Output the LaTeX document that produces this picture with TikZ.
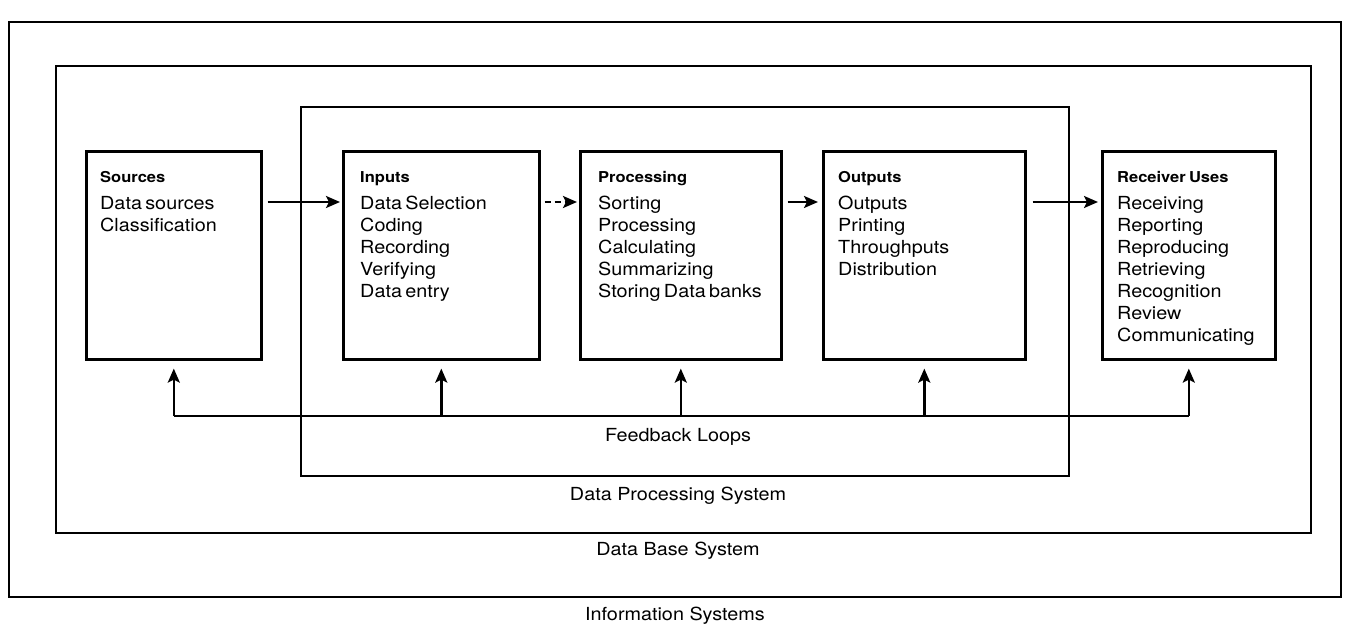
\documentclass[tikz,border=0pt]{standalone}
\usepackage{fontspec}
\setmainfont{TeX Gyre Heros}[FakeStretch=1.1]
\usetikzlibrary{arrows.meta,calc}
\newcommand\blk[2]{{\fontsize{15}{16}\selectfont\bfseries #1\par}\vspace{5pt}{\fontsize{18}{22}\selectfont #2\par}}
\tikzset{
  frame/.style={draw, line width=2.4pt},
  block/.style={draw, line width=2.6pt, minimum height=208pt, anchor=north west, inner sep=0pt},
  blocktxt/.style={anchor=north west, inner sep=0pt, align=left, text width=#1},
  arr/.style={line width=2.4pt, -{Stealth[length=14pt,width=12pt,inset=3pt]}},
  fbline/.style={line width=2.4pt},
  caption/.style={font=\fontsize{18}{20}\selectfont, inner sep=0pt},
}
\begin{document}
\begin{tikzpicture}[x=1pt,y=-1pt]
\useasboundingbox (0,0) rectangle (1352,628);
% nested system frames
\node[frame, anchor=north west, minimum width=1332pt, minimum height=575pt, inner sep=0pt] (is) at (8,21) {};
\node[frame, anchor=north west, minimum width=1255pt, minimum height=467pt, inner sep=0pt] (db) at (55,65) {};
\node[frame, anchor=north west, minimum width=768pt, minimum height=369pt, inner sep=0pt] (dp) at (300,106) {};
% blocks
\node[block, minimum width=175pt] (src) at (85,150) {};
\node[block, minimum width=196pt] (inp) at (342,150) {};
\node[block, minimum width=201pt] (prc) at (579,150) {};
\node[block, minimum width=202pt] (out) at (822,150) {};
\node[block, minimum width=173pt] (rcv) at (1101,150) {};
% block texts
\node[blocktxt=160pt] (srcT) at ($(src.north west)+(15,21)$) {\blk{Sources}{Data sources\\Classification}};
\node[blocktxt=178pt] (inpT) at ($(inp.north west)+(18,21)$) {\blk{Inputs}{Data Selection\\Coding\\Recording\\Verifying\\Data entry}};
\node[blocktxt=185pt] (prcT) at ($(prc.north west)+(19,21)$) {\blk{Processing}{Sorting\\Processing\\Calculating\\Summarizing\\Storing Data banks}};
\node[blocktxt=186pt] (outT) at ($(out.north west)+(16,21)$) {\blk{Outputs}{Outputs\\Printing\\Throughputs\\Distribution}};
\node[blocktxt=157pt] (rcvT) at ($(rcv.north west)+(16,21)$) {\blk{Receiver Uses}{Receiving\\Reporting\\Reproducing\\Retrieving\\Recognition\\Review\\Communicating}};
% forward flow
\coordinate (row) at (0,202);
\draw[arr, shorten <=5pt, shorten >=2pt] (src.east |- row) -- (inp.west |- row);
\draw[arr, dashed, dash pattern=on 6pt off 4pt, shorten <=4pt, shorten >=2pt] (inp.east |- row) -- (prc.west |- row);
\draw[arr, shorten <=5pt, shorten >=4pt] (prc.east |- row) -- (out.west |- row);
\draw[arr, shorten <=6pt, shorten >=3pt] (out.east |- row) -- (rcv.west |- row);
% feedback loops
\coordinate (fb) at (0,416);
\draw[fbline] (src.south |- fb) -- (rcv.south |- fb);
\foreach \b in {src,inp,prc,out,rcv}{
  \draw[arr, shorten >=8pt] (\b.south |- fb) -- (\b.south);
}
% captions
\node[caption] (fbL) at (678,437) {Feedback Loops};
\node[caption] (dpL) at (678,496) {Data Processing System};
\node[caption] (dbL) at (678,551) {Data Base System};
\node[caption] (isL) at (675,616) {Information Systems};
\end{tikzpicture}
\end{document}
